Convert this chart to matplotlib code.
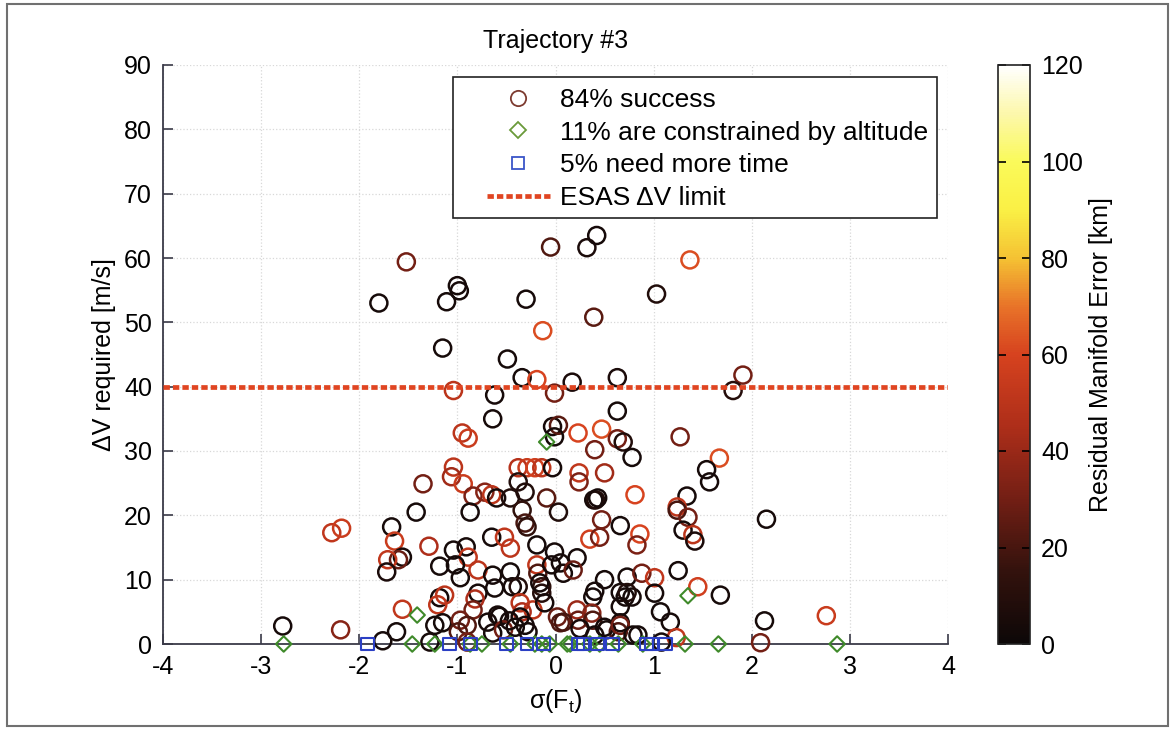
import matplotlib
matplotlib.use("Agg")
import matplotlib.pyplot as plt
from matplotlib.colors import LinearSegmentedColormap, Normalize
from matplotlib.lines import Line2D
from matplotlib.patches import Rectangle
import numpy as np

plt.rcParams['font.family'] = ['Liberation Sans', 'DejaVu Sans']
plt.rcParams['mathtext.default'] = 'regular'
plt.rcParams['axes.unicode_minus'] = False

# ---- data -----------------------------------------------------------------
# successful runs: sigma(F_t), delta-V required [m/s], residual manifold error [km]
success_x = [
    -1.52, -1.80, -1.11, -1.00, -0.98, -1.15, -0.49, -0.30, -0.05, 0.32,
    0.42, 1.03, 1.37, 0.39, -0.13, -0.34, -0.19, 0.17, 0.63, 1.91,
    1.81, -1.04, -0.62, -0.01, 0.63, -0.64, -0.03, 0.03, -0.01, -0.95,
    -0.89, 0.23, 0.47, 0.63, 0.69, 1.27, 0.40, 0.78, 1.67, -1.04,
    -1.06, -0.94, -1.35, -0.38, -0.29, -0.21, -0.14, -0.03, 0.24, 0.24,
    0.50, 1.54, 1.57, -0.38, -0.31, -0.84, -0.72, -0.65, -0.60, -0.46,
    -0.09, 0.39, 0.41, 0.43, 0.81, 1.34, 1.24, 1.24, 1.35, -0.34,
    -0.87, -1.42, 0.03, 0.47, 0.66, 2.15, -0.31, -0.29, -1.67, -2.28,
    -2.18, 1.30, 1.40, 1.42, 0.86, 0.35, 0.45, 0.83, -1.64, -0.65,
    -0.52, -0.46, -0.19, -1.29, -1.04, -0.91, -0.89, -1.56, -1.60, -1.71,
    -1.72, -1.18, -1.02, -0.97, -0.79, -0.01, 0.22, -0.64, -0.62, -0.46,
    -0.44, -0.38, -0.19, -0.18, -0.14, -0.14, -0.04, 0.05, 0.08, -0.16,
    0.18, 0.50, 0.73, 0.88, 1.01, 1.25, 1.45, 1.68, 1.01, 0.66,
    0.71, 0.78, 0.73, 0.40, 0.38, 0.66, 1.07, 1.17, 2.13, 2.76,
    2.09, 1.23, 1.08, 0.84, -1.18, -1.13, -1.20, -0.79, -0.82, -0.84,
    -0.59, -0.36, -0.34, -0.23, -0.11, -0.36, -1.56, -2.19, -2.78, -1.76,
    -1.62, -1.28, -1.23, -1.15, -0.97, -0.90, -0.99, -0.69, -0.57, -0.64,
    -0.53, -0.41, -0.28, -0.90, 0.02, 0.05, 0.22, 0.23, 0.37, 0.38,
    0.52, 0.66, 0.64, 0.50, 0.66, 0.79, 0.08, 0.25, 0.40, -0.47,
    -0.31,
]
success_dv = [
    59.4, 53.0, 53.2, 55.7, 54.9, 46.0, 44.3, 53.6, 61.7, 61.6,
    63.5, 54.4, 59.7, 50.8, 48.7, 41.4, 41.1, 40.7, 41.4, 41.8,
    39.4, 39.4, 38.7, 39.0, 36.2, 35.0, 33.8, 34.0, 32.2, 32.8,
    32.0, 32.8, 33.4, 31.9, 31.4, 32.2, 30.2, 29.0, 28.9, 27.5,
    26.0, 24.9, 24.9, 27.4, 27.4, 27.4, 27.4, 27.4, 26.6, 25.2,
    26.6, 27.1, 25.2, 25.2, 23.6, 23.0, 23.6, 23.2, 22.7, 22.7,
    22.7, 22.4, 22.4, 22.7, 23.2, 23.0, 21.3, 20.8, 19.7, 20.8,
    20.5, 20.5, 20.5, 19.3, 18.4, 19.4, 18.8, 18.2, 18.2, 17.3,
    18.0, 17.7, 17.0, 16.0, 17.1, 16.3, 16.6, 15.4, 16.0, 16.6,
    16.6, 14.9, 15.4, 15.2, 14.6, 15.1, 13.5, 13.5, 13.1, 13.1,
    11.2, 12.1, 12.3, 10.3, 11.5, 14.3, 13.4, 10.7, 8.7, 11.2,
    8.9, 8.9, 12.3, 11.0, 8.9, 7.9, 12.3, 12.6, 11.0, 9.5,
    11.5, 10.0, 10.4, 11.0, 10.3, 11.4, 8.9, 7.6, 7.9, 8.0,
    7.3, 7.3, 8.0, 8.2, 7.3, 5.8, 5.0, 3.4, 3.6, 4.4,
    0.2, 1.0, 0.3, 1.4, 7.2, 7.6, 6.1, 7.9, 7.0, 5.3,
    4.5, 6.4, 5.0, 5.3, 6.4, 4.2, 5.4, 2.2, 2.8, 0.5,
    1.9, 0.3, 2.9, 3.3, 3.7, 2.9, 1.9, 3.4, 4.3, 1.7,
    2.2, 2.6, 1.9, 0.3, 4.2, 3.3, 5.3, 3.7, 4.8, 3.7,
    2.2, 3.3, 1.9, 2.6, 2.9, 1.4, 3.4, 2.4, 1.4, 3.6,
    2.9,
]
success_err = [
    30, 4, 4, 4, 4, 4, 4, 4, 22, 6,
    4, 8, 62, 24, 62, 4, 60, 6, 6, 30,
    10, 50, 4, 30, 4, 4, 4, 24, 4, 50,
    55, 60, 62, 30, 8, 30, 30, 4, 62, 50,
    42, 55, 30, 48, 55, 58, 50, 4, 52, 32,
    42, 4, 4, 8, 8, 32, 35, 50, 4, 8,
    24, 4, 8, 4, 60, 4, 52, 20, 30, 14,
    4, 4, 8, 30, 4, 4, 20, 14, 4, 52,
    55, 4, 50, 6, 60, 58, 30, 32, 55, 4,
    52, 50, 4, 45, 4, 4, 52, 4, 28, 52,
    6, 4, 4, 4, 50, 4, 4, 4, 4, 4,
    4, 8, 52, 22, 12, 10, 4, 4, 4, 4,
    28, 4, 4, 30, 52, 4, 58, 4, 4, 4,
    4, 4, 8, 4, 4, 4, 4, 4, 4, 55,
    30, 52, 4, 4, 4, 50, 52, 4, 45, 30,
    4, 50, 45, 50, 4, 4, 52, 35, 4, 4,
    4, 4, 4, 4, 30, 22, 22, 4, 4, 4,
    30, 4, 4, 30, 28, 22, 40, 28, 35, 22,
    4, 4, 22, 4, 30, 4, 20, 4, 4, 4,
    4,
]

# runs stopped by the altitude constraint
altitude_x = [-2.77, -1.46, -1.41, -1.23, -0.87, -0.75, -0.46, -0.21, -0.14, -0.06,
              -0.09, 0.12, 0.15, 0.35, 0.45, 0.64, 0.89, 1.32, 1.35, 1.66, 2.87]
altitude_dv = [0.0, 0.0, 4.5, 0.0, 0.0, 0.0, 0.0, 0.0, 0.0, 0.0,
               31.4, 0.0, 0.0, 0.0, 0.0, 0.0, 0.0, 0.0, 7.5, 0.0, 0.0]

# runs that ran out of time
time_x = [-1.92, -1.08, -0.87, -0.50, -0.29, -0.12, 0.23, 0.28, 0.43, 0.58, 0.93, 0.98, 1.12]
time_dv = [0.0] * len(time_x)

esas_limit = 40.0
x_limits = [-4, 4]
y_limits = [0, 90]
err_limits = [0, 120]

legend_labels = ["84% success", "11% are constrained by altitude",
                 "5% need more time", "ESAS \u0394V limit"]

# ---- colour map (black -> red -> yellow -> white) --------------------------
cmap = LinearSegmentedColormap.from_list("hot_print", [
    (0.000, (0.05, 0.03, 0.03)),
    (0.125, (0.20, 0.07, 0.05)),
    (0.250, (0.45, 0.12, 0.08)),
    (0.375, (0.68, 0.18, 0.10)),
    (0.500, (0.84, 0.26, 0.12)),
    (0.583, (0.91, 0.45, 0.16)),
    (0.667, (0.96, 0.76, 0.20)),
    (0.750, (0.98, 0.94, 0.27)),
    (0.833, (0.98, 0.98, 0.35)),
    (0.917, (0.99, 0.97, 0.67)),
    (1.000, (1.00, 1.00, 1.00)),
])
norm = Normalize(vmin=err_limits[0], vmax=err_limits[1])

# ---- figure ---------------------------------------------------------------
W, H = 1175, 730
fig = plt.figure(figsize=(W / 100, H / 100), dpi=100)
ax = fig.add_axes([163 / W, 86 / H, 785 / W, 579 / H])
cax = fig.add_axes([998 / W, 86 / H, 32 / W, 579 / H])

ring_colors = cmap(norm(np.asarray(success_err, dtype=float)))
ax.scatter(success_x, success_dv, marker='o', s=150, facecolors='none',
           edgecolors=ring_colors, linewidths=1.8, clip_on=False, zorder=3)
ax.scatter(altitude_x, altitude_dv, marker='D', s=62, facecolors='none',
           edgecolors='#3f8a2a', linewidths=1.5, clip_on=False, zorder=4)
ax.scatter(time_x, time_dv, marker='s', s=85, facecolors='none',
           edgecolors='#2b3fc4', linewidths=1.5, clip_on=False, zorder=5)
ax.plot(x_limits, [esas_limit, esas_limit], color='#e04522', lw=3.4,
        linestyle=(0, (1.35, 0.65)), zorder=6, dash_capstyle='butt')

ax.set_xlim(*x_limits)
ax.set_ylim(*y_limits)
ax.set_xticks(np.arange(-4, 5, 1))
ax.set_yticks(np.arange(0, 91, 10))
for side in ('top', 'right'):
    ax.spines[side].set_visible(False)
for side in ('left', 'bottom'):
    ax.spines[side].set_color('#3a3a48')
    ax.spines[side].set_linewidth(1.3)
ax.tick_params(direction='in', length=7, width=1.2, color='#3a3a48',
               labelsize=18, pad=8)
ax.grid(True, linestyle=':', color='#d8d8d8', linewidth=0.9)
ax.set_axisbelow(True)

ax.set_title("Trajectory #3", fontsize=18, pad=12)
ax.set_xlabel("\u03c3(F$_t$)", fontsize=18, labelpad=6)
ax.set_ylabel("\u0394V required [m/s]", fontsize=18, labelpad=6)

# legend: entries without frame, box drawn separately
box_l, box_r, box_t, box_b = 453, 937, 77, 218
ax.add_patch(Rectangle(((box_l - 163) / 785, (644 - box_b) / 579),
                       (box_r - box_l) / 785, (box_b - box_t) / 579,
                       transform=ax.transAxes, facecolor='white',
                       edgecolor='#222222', linewidth=1.2, zorder=9,
                       clip_on=False))
handles = [
    Line2D([], [], linestyle='none', marker='o', markersize=11,
           markerfacecolor='none', markeredgecolor='#7d3b30', markeredgewidth=1.3),
    Line2D([], [], linestyle='none', marker='D', markersize=8,
           markerfacecolor='none', markeredgecolor='#6a9a3a', markeredgewidth=1.3),
    Line2D([], [], linestyle='none', marker='s', markersize=9,
           markerfacecolor='none', markeredgecolor='#3a55c8', markeredgewidth=1.3),
    Line2D([], [], color='#e04522', lw=3.4, linestyle=(0, (1.35, 0.65))),
]
leg = ax.legend(handles, legend_labels, loc='upper left',
                bbox_to_anchor=((487 - 163) / 785, (644 - 88) / 579),
                borderaxespad=0, borderpad=0, fontsize=19, frameon=False,
                handlelength=63 / 26.4, handletextpad=10 / 26.4,
                labelspacing=0.33)
leg.set_zorder(10)

cb = fig.colorbar(plt.cm.ScalarMappable(norm=norm, cmap=cmap), cax=cax)
cb.set_ticks(np.arange(0, 121, 20))
cb.outline.set_edgecolor('#222222')
cb.outline.set_linewidth(1.2)
cax.tick_params(direction='in', length=6, width=1.2, labelsize=18,
                left=True, right=True, pad=8)
cb.set_label("Residual Manifold Error [km]", fontsize=18, labelpad=4)

fig.patches.append(Rectangle((7 / W, 4 / H), 1161 / W, 722 / H,
                             transform=fig.transFigure, fill=False,
                             edgecolor='#707070', linewidth=1.5))

fig.savefig("out.png", dpi=100)
